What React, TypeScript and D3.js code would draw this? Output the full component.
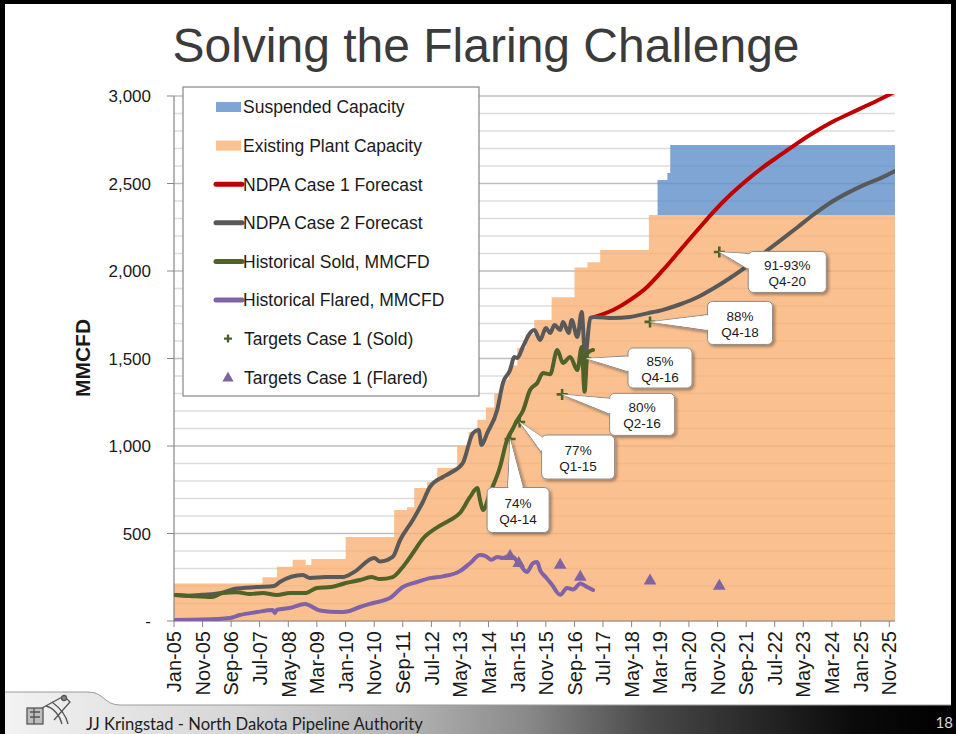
import React from "react";
import * as d3 from "d3";

const W = 956;
const H = 734;

// ---------- data (month index counted from Jan-05) ----------
const tickLabels = [
  "Jan-05", "Nov-05", "Sep-06", "Jul-07", "May-08", "Mar-09", "Jan-10", "Nov-10", "Sep-11",
  "Jul-12", "May-13", "Mar-14", "Jan-15", "Nov-15", "Sep-16", "Jul-17", "May-18", "Mar-19",
  "Jan-20", "Nov-20", "Sep-21", "Jul-22", "May-23", "Mar-24", "Jan-25", "Nov-25",
];
const yTicks = [0, 500, 1000, 1500, 2000, 2500, 3000];
const yGrid = d3.range(0, 3001, 100);

const existingCapacity: [number, number][] = [
  [0, 215], [31, 250], [36, 310], [41.5, 350], [46, 320], [48, 355], [60, 480], [77, 635],
  [81.5, 650], [84, 760], [88.5, 795], [92, 875], [99, 1000], [103, 1080], [106, 1150],
  [109, 1220], [112, 1300], [115, 1380], [117, 1460], [120, 1560], [123, 1640], [126, 1720],
  [132, 1850], [140, 2020], [144.5, 2050], [149, 2120], [166, 2320], [252, 2320],
];
const suspendedBase = 2320;
const suspendedCapacity: [number, number][] = [
  [169, 2520], [172.5, 2560], [173.5, 2720], [252, 2720],
];

const caseTwo: [number, number][] = [
  [0, 149], [5, 145], [10, 150], [17, 162], [21, 183], [29, 194], [35, 200], [37, 223],
  [45, 263], [47.5, 246], [53, 251], [59, 251], [63, 280], [70, 360], [72, 340], [76.5, 366],
  [79, 460], [83.5, 577], [87, 680], [89.5, 766], [94, 823], [96.5, 846], [101, 903],
  [104.5, 1074], [106.5, 1091], [107.5, 1006], [109.5, 1074], [113, 1206], [115, 1360],
  [117.5, 1434], [119, 1509], [120, 1503], [122, 1566], [124.5, 1646], [126, 1663],
  [128, 1606], [130, 1674], [131.5, 1646], [133, 1691], [135, 1663], [136, 1709], [138, 1646],
  [139, 1720], [141, 1623], [142.5, 1766], [143.7, 1509], [145.5, 1731], [147, 1737],
  [153.5, 1731], [159.4, 1737], [165.4, 1758], [171, 1778], [177, 1810], [183, 1850],
  [188.5, 1900], [194.4, 1960], [200.3, 2028], [206, 2100], [212, 2175], [218, 2250],
  [223.4, 2320], [229.4, 2390], [235.3, 2445], [241, 2491], [247, 2531], [252, 2571],
];
const caseOne: [number, number][] = [
  [147, 1737], [153.5, 1777], [159.4, 1834], [165.4, 1909], [171, 2006], [177, 2120],
  [183, 2234], [188.5, 2337], [194.4, 2434], [200.3, 2520], [206, 2594], [212, 2663],
  [218, 2731], [223.4, 2789], [229.4, 2846], [235.3, 2893], [241, 2937], [247, 2983], [252, 3025],
];
const histSold: [number, number][] = [
  [0, 149], [5.6, 143], [13.3, 137], [17, 160], [22, 165], [26.6, 154], [31, 160], [36, 149],
  [40.5, 160], [46, 160], [50, 189], [55, 194], [60, 217], [65, 234], [69, 251], [72, 240],
  [76.5, 251], [80, 309], [83.6, 390], [87, 470], [92, 535], [96.5, 577], [100, 617],
  [103.5, 709], [106, 760], [107, 690], [108, 634], [110.5, 731], [114, 880], [116.4, 1034],
  [118.5, 1100], [120, 1149], [122, 1200], [124.5, 1320], [127, 1360], [129, 1417],
  [131.5, 1410], [134, 1549], [136, 1474], [138.5, 1509], [141, 1434], [142.5, 1566],
  [143.5, 1310], [144.5, 1531], [146.5, 1549],
];
const histFlared: [number, number][] = [
  [0, 6], [10, 8], [19.6, 17], [23, 34], [29, 51], [34.6, 63], [35.3, 45], [36, 65],
  [40.5, 74], [45.8, 97], [51, 60], [58, 51], [60.5, 54], [65, 80], [69.6, 103], [75.5, 131],
  [80, 194], [85, 223], [89.5, 245], [94, 255], [100, 285], [103.5, 330], [107, 377],
  [109, 370], [111, 350], [113, 366], [115, 360], [117.5, 375], [119, 360], [121, 320],
  [123.4, 280], [125.5, 330], [127, 337], [128, 290], [130, 250], [132, 210], [135, 150],
  [137.4, 189], [139.5, 180], [142, 215], [144.4, 194], [146.5, 177],
];

const targetsSold: [number, number][] = [
  [117.5, 1040], [120.8, 1137], [135.7, 1295], [144, 1500], [166.4, 1709], [190.6, 2109],
];
const targetsFlared: [number, number][] = [
  [117.5, 370], [120.5, 330], [135, 320], [142, 251], [166.4, 229], [190.6, 200],
];

const calloutPct = ["74%", "77%", "80%", "85%", "88%", "91-93%"];
const calloutQtr = ["Q4-14", "Q1-15", "Q2-16", "Q4-16", "Q4-18", "Q4-20"];

// layout of callout boxes (offset of box centre from the target, box size)
const calloutLayout = [
  { dx: 8, dy: 71, w: 62, h: 45 },
  { dx: 58.5, dy: 35, w: 73, h: 44 },
  { dx: 80, dy: 20, w: 65, h: 42 },
  { dx: 74, dy: 9.5, w: 64, h: 40 },
  { dx: 90, dy: 1, w: 65, h: 43 },
  { dx: 68, dy: 20, w: 78, h: 41 },
];

const legendItems = [
  { label: "Suspended Capacity", kind: "area", color: "#7ea5d4" },
  { label: "Existing Plant Capacity", kind: "area", color: "#fac191" },
  { label: "NDPA Case 1 Forecast", kind: "line", color: "#c00000" },
  { label: "NDPA Case 2 Forecast", kind: "line", color: "#595959" },
  { label: "Historical Sold, MMCFD", kind: "line", color: "#4f6228" },
  { label: "Historical Flared, MMCFD", kind: "line", color: "#7f62a8" },
  { label: "Targets Case 1 (Sold)", kind: "plus", color: "#4f6228" },
  { label: "Targets Case 1 (Flared)", kind: "tri", color: "#8064a2" },
];

// ---------- helpers ----------
function toDate(m: number): Date {
  const whole = Math.floor(m);
  const frac = m - whole;
  const d0 = new Date(2005, whole, 1).getTime();
  const d1 = new Date(2005, whole + 1, 1).getTime();
  return new Date(d0 + frac * (d1 - d0));
}

const FONT = "'Liberation Sans', Arial, sans-serif";

export default function App() {
  const left = 174, right = 895, top = 96, bottom = 621;
  const x = d3.scaleTime().domain([toDate(0), toDate(252)]).range([left, right]);
  const y = d3.scaleLinear().domain([0, 3000]).range([bottom, top]);
  const parse = d3.timeParse("%b-%y");
  const fmt = d3.format(",");

  const px = (d: [number, number]) => x(toDate(d[0]));
  const py = (d: [number, number]) => y(d[1]);

  const areaExisting = d3.area<[number, number]>().x(px).y0(y(0)).y1(py).curve(d3.curveStepAfter);
  const areaSusp = d3.area<[number, number]>().x(px).y0(y(suspendedBase)).y1(py).curve(d3.curveStepAfter);
  const line = d3.line<[number, number]>().x(px).y(py).curve(d3.curveMonotoneX);
  const tri = d3.symbol().type(d3.symbolTriangle).size(70)();
  const triSmall = d3.symbol().type(d3.symbolTriangle).size(55)();

  const lineStyle = { fill: "none", strokeWidth: 4, strokeLinejoin: "round" as const, strokeLinecap: "round" as const };

  // legend geometry
  const lgX = 183, lgY = 87, lgW = 296, lgH = 309;
  const rowY0 = 107, rowStep = 38.6;

  return (
    <svg width={W} height={H} style={{ position: "absolute", left: 0, top: 0, background: "#fff" }} fontFamily={FONT}>
      <defs>
        <clipPath id="plotClip">
          <rect x={left} y={top - 2} width={right - left} height={bottom - top + 2} />
        </clipPath>
        <filter id="shadow" x="-20%" y="-20%" width="150%" height="150%">
          <feDropShadow dx="2" dy="2" stdDeviation="1.5" floodColor="#000" floodOpacity="0.35" />
        </filter>
        <linearGradient id="footGrad" x1="0" x2="1" y1="0" y2="0">
          <stop offset="0" stopColor="#f2f2f2" />
          <stop offset="0.25" stopColor="#d6d6d6" />
          <stop offset="0.42" stopColor="#b4b4b4" />
          <stop offset="0.55" stopColor="#8a8a8a" />
          <stop offset="0.68" stopColor="#4a4a4a" />
          <stop offset="0.8" stopColor="#262626" />
          <stop offset="0.9" stopColor="#0a0a0a" />
          <stop offset="1" stopColor="#000" />
        </linearGradient>
      </defs>

      {/* title */}
      <text x={486} y={62} textAnchor="middle" fontSize={48} fill="#3b3b3b">
        Solving the Flaring Challenge
      </text>

      {/* gridlines */}
      {yGrid.map((v) => (
        <line key={v} x1={left} x2={right} y1={y(v)} y2={y(v)}
          stroke={v % 500 === 0 && v > 0 ? "#bfbfbf" : "#dcdcdc"} strokeWidth={1.3} />
      ))}

      {/* areas */}
      <path d={areaExisting(existingCapacity) || ""} fill="#f9b074" fillOpacity={0.8} />
      <path d={areaSusp(suspendedCapacity) || ""} fill="#5e8ec8" fillOpacity={0.8} />

      {/* axes */}
      <line x1={left} x2={left} y1={top} y2={bottom} stroke="#868686" strokeWidth={1.2} />
      <line x1={left} x2={right} y1={bottom} y2={bottom} stroke="#868686" strokeWidth={1.2} />
      {yTicks.map((v) => (
        <g key={v}>
          <line x1={left - 7} x2={left} y1={y(v)} y2={y(v)} stroke="#868686" />
          <text x={151} y={y(v)} dy="0.36em" textAnchor="end" fontSize={17} fill="#1a1a1a">
            {v === 0 ? "-" : fmt(v)}
          </text>
        </g>
      ))}
      {tickLabels.map((t) => {
        const tx = x(parse(t) as Date);
        return (
          <g key={t}>
            <line x1={tx} x2={tx} y1={bottom} y2={bottom + 6} stroke="#868686" />
            <text transform={`translate(${tx},${bottom + 10}) rotate(-90)`} dy="0.36em"
              textAnchor="end" fontSize={20} fill="#1a1a1a">
              {t}
            </text>
          </g>
        );
      })}
      <text transform={`translate(90,358) rotate(-90)`} textAnchor="middle" fontSize={21}
        fontWeight="bold" fill="#1a1a1a">
        MMCFD
      </text>

      {/* series lines */}
      <g clipPath="url(#plotClip)">
        <path d={line(caseOne) || ""} stroke="#c00000" {...lineStyle} />
        <path d={line(caseTwo) || ""} stroke="#595959" {...lineStyle} />
        <path d={line(histSold) || ""} stroke="#4f6228" {...lineStyle} />
        <path d={line(histFlared) || ""} stroke="#7f62a8" {...lineStyle} />
      </g>

      {/* target markers */}
      {targetsFlared.map((d, i) => (
        <path key={"f" + i} d={tri || ""} transform={`translate(${px(d)},${py(d)})`} fill="#8064a2" />
      ))}
      {targetsSold.map((d, i) => (
        <path key={"s" + i} d="M-5.5,0H5.5M0,-5.5V5.5" transform={`translate(${px(d)},${py(d)})`}
          stroke="#4f6228" strokeWidth={2.6} />
      ))}

      {/* callouts */}
      {targetsSold.map((d, i) => {
        const L = calloutLayout[i];
        const tx = px(d), ty = py(d);
        const cx = tx + L.dx, cy = ty + L.dy;
        const dx = tx - cx, dy = ty - cy;
        const hw = L.w / 2, hh = L.h / 2;
        const side = Math.abs(dx) * L.h > Math.abs(dy) * L.w;
        const t = side ? hw / Math.abs(dx) : hh / Math.abs(dy);
        let ex = cx + dx * t, ey = cy + dy * t;
        let b1: [number, number], b2: [number, number];
        const bw = 8;
        if (side) {
          ey = Math.max(cy - hh + bw + 2, Math.min(cy + hh - bw - 2, ey));
          b1 = [ex, ey - bw]; b2 = [ex, ey + bw];
        } else {
          ex = Math.max(cx - hw + bw + 2, Math.min(cx + hw - bw - 2, ex));
          b1 = [ex - bw, ey]; b2 = [ex + bw, ey];
        }
        const wedge = `M${b1[0]},${b1[1]}L${tx},${ty}L${b2[0]},${b2[1]}Z`;
        const inset = side ? (dx < 0 ? 1.2 : -1.2) : (dy < 0 ? 1.2 : -1.2);
        const wedgeFill = side
          ? `M${b1[0] + inset},${b1[1] + 0.8}L${tx},${ty}L${b2[0] + inset},${b2[1] - 0.8}Z`
          : `M${b1[0] + 0.8},${b1[1] + inset}L${tx},${ty}L${b2[0] - 0.8},${b2[1] + inset}Z`;
        return (
          <g key={"c" + i}>
            <g filter="url(#shadow)">
              <path d={wedge} fill="#fff" stroke="#8c8c8c" strokeWidth={1} />
              <rect x={cx - hw} y={cy - hh} width={L.w} height={L.h} rx={5} fill="#fff" stroke="#8c8c8c" strokeWidth={1} />
            </g>
            <path d={wedgeFill} fill="#fff" />
            <text x={cx} y={cy - 2} textAnchor="middle" fontSize={13.5} fill="#1a1a1a">{calloutPct[i]}</text>
            <text x={cx} y={cy + 14} textAnchor="middle" fontSize={13.5} fill="#1a1a1a">{calloutQtr[i]}</text>
          </g>
        );
      })}

      {/* legend */}
      <rect x={lgX} y={lgY} width={lgW} height={lgH} fill="#fff" stroke="#868686" strokeWidth={1.2} />
      {legendItems.map((it, i) => {
        const ry = rowY0 + i * rowStep;
        let sw: React.ReactNode = null;
        if (it.kind === "area") sw = <rect x={216} y={ry - 5} width={25} height={10} fill={it.color} />;
        else if (it.kind === "line") sw = <line x1={216} x2={242} y1={ry} y2={ry} stroke={it.color} strokeWidth={5} strokeLinecap="round" />;
        else if (it.kind === "plus") sw = <path d="M-4,0H4M0,-4V4" transform={`translate(228,${ry})`} stroke={it.color} strokeWidth={2.4} />;
        else sw = <path d={triSmall || ""} transform={`translate(228,${ry + 1})`} fill={it.color} />;
        return (
          <g key={it.label}>
            {sw}
            <text x={it.kind === "plus" || it.kind === "tri" ? 244 : 243} y={ry} dy="0.36em" fontSize={17.5} fill="#1a1a1a">
              {it.label}
            </text>
          </g>
        );
      })}

      {/* footer */}
      <path d="M5,692 H88 C104,692 104,705 120,705 H951 V734 H5 Z" fill="url(#footGrad)" />
      <path d="M5,692 H88 C104,692 104,705 120,705 H951" fill="none" stroke="#9a9a9a" strokeWidth={1} />
      <g transform="translate(24,694)" stroke="#555" strokeWidth={1.3} fill="none">
        <rect x={3} y={14} width={16} height={16} fill="#bdbdbd" />
        <path d="M6,18 h10 M6,23 h10 M10,14 v16" />
        <path d="M18,14 L40,2 L46,8 L30,26" />
        <path d="M22,12 C30,14 36,22 38,30 M28,8 C36,14 42,20 44,30" />
        <circle cx={40} cy={4} r={2.5} fill="#888" />
      </g>
      <text x={86} y={730} fontSize={16.6} fontFamily="Lato, 'Open Sans', sans-serif" fill="#1e1e1e">
        JJ Kringstad - North Dakota Pipeline Authority
      </text>

      {/* slide frame */}
      <rect x={0} y={0} width={W} height={4} fill="#000" />
      <rect x={0} y={0} width={5} height={H} fill="#000" />
      <rect x={W - 5} y={0} width={5} height={H} fill="#000" />
      <text x={953} y={728} textAnchor="end" fontSize={15} fontFamily="Lato, 'Open Sans', sans-serif" fill="#d8d8d8">18</text>
    </svg>
  );
}
